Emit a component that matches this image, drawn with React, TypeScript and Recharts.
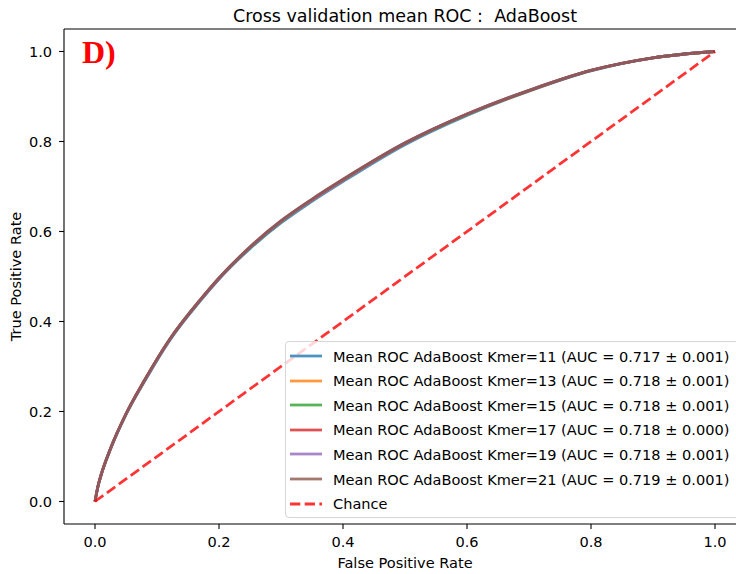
import { LineChart, Line, XAxis, YAxis, Legend, ReferenceLine } from "recharts";

const fpr = [0, 0.005, 0.01, 0.025, 0.05, 0.08, 0.12, 0.17, 0.2, 0.25, 0.3, 0.35, 0.4, 0.5, 0.6, 0.7, 0.8, 0.9, 1.0];

const tprK11 = [0, 0.035, 0.059, 0.116, 0.193, 0.267, 0.357, 0.446, 0.494, 0.562, 0.619, 0.667, 0.711, 0.793, 0.858, 0.912, 0.957, 0.986, 1.0];
const tprK13 = [0, 0.035, 0.06, 0.117, 0.194, 0.269, 0.359, 0.448, 0.496, 0.565, 0.622, 0.67, 0.714, 0.796, 0.86, 0.913, 0.958, 0.986, 1.0];
const tprK15 = [0, 0.035, 0.06, 0.117, 0.194, 0.269, 0.359, 0.448, 0.496, 0.564, 0.622, 0.671, 0.715, 0.796, 0.86, 0.913, 0.958, 0.986, 1.0];
const tprK17 = [0, 0.035, 0.06, 0.118, 0.195, 0.27, 0.359, 0.448, 0.496, 0.565, 0.623, 0.671, 0.715, 0.796, 0.861, 0.913, 0.958, 0.986, 1.0];
const tprK19 = [0, 0.035, 0.06, 0.117, 0.194, 0.269, 0.359, 0.448, 0.496, 0.565, 0.623, 0.671, 0.715, 0.797, 0.861, 0.914, 0.958, 0.986, 1.0];
const tprK21 = [0, 0.035, 0.06, 0.118, 0.195, 0.27, 0.36, 0.449, 0.497, 0.566, 0.624, 0.672, 0.716, 0.797, 0.861, 0.914, 0.958, 0.986, 1.0];

const chanceFpr = [0, 1];
const chanceTpr = [0, 1];

const kmers = ["11", "13", "15", "17", "19", "21"];
const aucLabels = [
  "0.717 ± 0.001",
  "0.718 ± 0.001",
  "0.718 ± 0.001",
  "0.718 ± 0.000",
  "0.718 ± 0.001",
  "0.719 ± 0.001",
];
const tprSeries = [tprK11, tprK13, tprK15, tprK17, tprK19, tprK21];
const colors = ["#1f77b4", "#ff7f0e", "#2ca02c", "#d62728", "#9467bd", "#8c564b"];

const ticks = [0, 0.2, 0.4, 0.6, 0.8, 1.0];

const rows = fpr.map((x, i) => {
  const row: Record<string, number> = { fpr: x };
  kmers.forEach((k, s) => {
    row["k" + k] = tprSeries[s][i];
  });
  return row;
});

const chanceData = chanceFpr.map((x, i) => ({ fpr: x, chance: chanceTpr[i] }));

const FONT = "'DejaVu Sans', sans-serif";
const FS = 14.55;
const LW = 2.78;

const tickStyle = { fill: "#000", fontSize: FS, fontFamily: FONT };

function LegendBox() {
  const entries = kmers.map((k, i) => ({
    name: `Mean ROC AdaBoost Kmer=${k} (AUC = ${aucLabels[i]})`,
    color: colors[i],
    dash: undefined as string | undefined,
  }));
  entries.push({ name: "Chance", color: "#ff0000", dash: "10.3 4.4" });
  return (
    <div
      style={{
        background: "rgba(255,255,255,0.8)",
        border: "1px solid #d6d6d6",
        borderRadius: 4,
        padding: "2px 0 1px 4px",
        boxSizing: "border-box",
      }}
    >
      {entries.map((e) => (
        <div
          key={e.name}
          style={{
            display: "flex",
            alignItems: "center",
            height: 24.55,
            fontSize: FS,
            fontFamily: FONT,
            color: "#000",
            whiteSpace: "nowrap",
          }}
        >
          <svg width={32} height={6} style={{ marginRight: 11, flex: "none" }}>
            <line
              x1={0}
              y1={3}
              x2={32}
              y2={3}
              stroke={e.color}
              strokeOpacity={0.8}
              strokeWidth={LW}
              strokeDasharray={e.dash}
            />
          </svg>
          <span>{e.name}</span>
        </div>
      ))}
    </div>
  );
}

export default function App() {
  return (
    <div
      style={{
        position: "fixed",
        left: 0,
        top: 0,
        width: 736,
        height: 574,
        overflow: "hidden",
        background: "#fff",
      }}
    >
      <LineChart
        width={760}
        height={574}
        data={rows}
        margin={{ top: 29, right: 14, bottom: 20, left: 0 }}
      >
        <XAxis
          dataKey="fpr"
          type="number"
          domain={[-0.05, 1.05]}
          ticks={ticks}
          tickFormatter={(v: number) => v.toFixed(1)}
          tick={tickStyle}
          tickSize={4.9}
          tickMargin={8}
          height={30}
          axisLine={{ stroke: "#000", strokeWidth: 1.1 }}
          tickLine={{ stroke: "#000", strokeWidth: 1.1 }}
          label={{
            content: (p: any) => {
              const vb = p.viewBox;
              return (
                <text
                  x={vb.x + vb.width / 2}
                  y={vb.y + 38}
                  textAnchor="middle"
                  dominantBaseline="central"
                  fontSize={FS}
                  fontFamily={FONT}
                  fill="#000"
                >
                  False Positive Rate
                </text>
              );
            },
          }}
        />
        <YAxis
          type="number"
          domain={[-0.05, 1.05]}
          ticks={ticks}
          tickFormatter={(v: number) => v.toFixed(1)}
          tick={tickStyle}
          tickSize={4.9}
          tickMargin={7}
          width={64}
          axisLine={{ stroke: "#000", strokeWidth: 1.1 }}
          tickLine={{ stroke: "#000", strokeWidth: 1.1 }}
          label={{
            content: (p: any) => {
              const vb = p.viewBox;
              const cx = 15;
              const cy = vb.y + vb.height / 2;
              return (
                <text
                  x={cx}
                  y={cy}
                  transform={`rotate(-90 ${cx} ${cy})`}
                  textAnchor="middle"
                  dominantBaseline="central"
                  fontSize={FS}
                  fontFamily={FONT}
                  fill="#000"
                >
                  True Positive Rate
                </text>
              );
            },
          }}
        />
        <ReferenceLine y={1.05} stroke="#000" strokeWidth={1.1} />
        {kmers.map((k, i) => (
          <Line
            key={k}
            dataKey={"k" + k}
            type="monotone"
            stroke={colors[i]}
            strokeOpacity={0.8}
            strokeWidth={LW}
            dot={false}
            activeDot={false}
            isAnimationActive={false}
          />
        ))}
        <Line
          data={chanceData}
          dataKey="chance"
          type="linear"
          stroke="#ff0000"
          strokeOpacity={0.8}
          strokeWidth={LW}
          strokeDasharray="10.3 4.4"
          dot={false}
          activeDot={false}
          isAnimationActive={false}
        />
        <Legend
          layout="vertical"
          align="center"
          verticalAlign="middle"
          content={() => <LegendBox />}
          wrapperStyle={{ left: 285, top: 341, width: 480 }}
        />
      </LineChart>
      <div
        style={{
          position: "absolute",
          left: 405,
          top: 6.5,
          transform: "translateX(-50%)",
          fontFamily: FONT,
          fontSize: 17.5,
          lineHeight: "18px",
          whiteSpace: "pre",
          color: "#000",
        }}
      >
        Cross validation mean ROC :  AdaBoost
      </div>
      <div
        style={{
          position: "absolute",
          left: 82,
          top: 35.5,
          fontFamily: "'Liberation Serif', 'Times New Roman', serif",
          fontWeight: "bold",
          fontSize: 32,
          lineHeight: "32px",
          color: "#ff0000",
        }}
      >
        D)
      </div>
    </div>
  );
}
